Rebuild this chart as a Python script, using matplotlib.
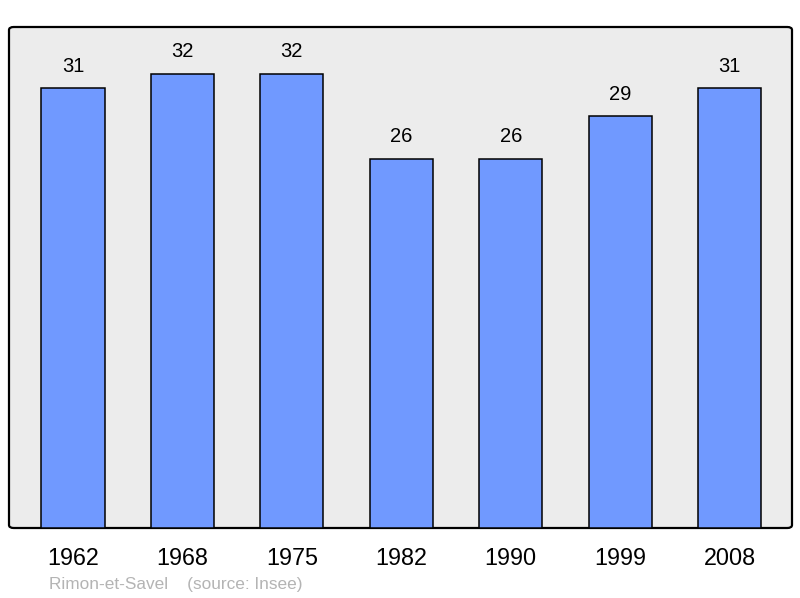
import matplotlib.pyplot as plt
from matplotlib.patches import FancyBboxPatch

# === Data ===
years = ["1962", "1968", "1975", "1982", "1990", "1999", "2008"]
population = [31, 32, 32, 26, 26, 29, 31]
commune = "Rimon-et-Savel"
source = "(source: Insee)"

plt.rcParams['font.family'] = ['Liberation Sans', 'DejaVu Sans']

fig = plt.figure(figsize=(8, 5.98), dpi=100)
ax = fig.add_axes([9 / 800, (598 - 528) / 598, 783 / 800, 501 / 598])

# background box with rounded corners
ax.set_facecolor("none")
frame = FancyBboxPatch((0, 0), 1, 1, boxstyle="round,pad=0,rounding_size=0.006",
                       transform=ax.transAxes, facecolor="#ececec",
                       edgecolor="black", linewidth=1.6, zorder=0, clip_on=False)
ax.add_patch(frame)

x = range(len(years))
bars = ax.bar(x, population, width=0.577, color="#7099ff",
              edgecolor="black", linewidth=1.1, zorder=2)

for xi, v in zip(x, population):
    ax.annotate(str(v), (xi, v), xytext=(0, 9), textcoords="offset points",
                ha="center", va="bottom", fontsize=14.5, color="black")

ax.set_xlim(-0.585, 6.57)
ax.set_ylim(0, 35.3)
ax.set_xticks(list(x))
ax.set_xticklabels(years, fontsize=16.8)
ax.tick_params(axis="x", length=0, pad=14)
ax.set_yticks([])
for s in ax.spines.values():
    s.set_visible(False)

fig.text(49 / 800, 1 - 584 / 598, commune + "    " + source, fontsize=12.4,
         color="#b4b4b4", ha="left", va="center")

fig.savefig("out.png", dpi=100)
